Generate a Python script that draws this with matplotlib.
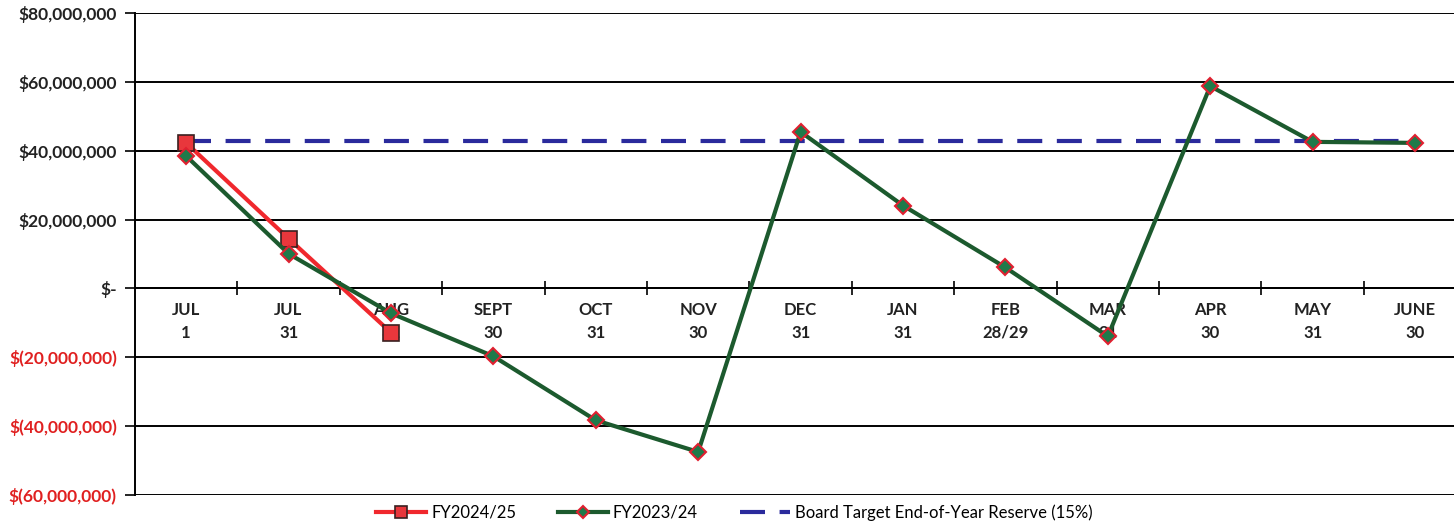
import numpy as np
import matplotlib
matplotlib.use("Agg")
import matplotlib.pyplot as plt
from matplotlib.ticker import FuncFormatter, FixedLocator

plt.rcParams['font.family'] = ['Lato', 'DejaVu Sans']

# period-end labels, fiscal year Jul-Jun
periods = ["JUL\n1", "JUL\n31", "AUG\n31", "SEPT\n30", "OCT\n31", "NOV\n30",
           "DEC\n31", "JAN\n31", "FEB\n28/29", "MAR\n31", "APR\n30", "MAY\n31", "JUNE\n30"]

# cash balances in dollars
fy2425 = [42.3e6, 14.5e6, -12.8e6]
fy2324 = [38.5e6, 10.1e6, -7.2e6, -19.7e6, -38.3e6, -47.5e6,
          45.5e6, 24.1e6, 6.1e6, -13.9e6, 58.8e6, 42.6e6, 42.3e6]
target = [42.8e6] * len(periods)

yticks = [80e6, 60e6, 40e6, 20e6, 0, -20e6, -40e6, -60e6]


def money(v, pos=None):
    if v == 0:
        return "$-"
    if v < 0:
        return "$({:,.0f})".format(-v)
    return "${:,.0f}".format(v)


fig = plt.figure(figsize=(14.54, 5.26), dpi=100)
ax = fig.add_axes([0.0928, 0.059, 0.9072, 0.916])

x = np.arange(len(periods))

ax.plot(x, target, color='#2a2a9c', lw=3, dashes=(6, 3.5), zorder=3,
        label='Board Target End-of-Year Reserve (15%)')
ax.plot(x[:len(fy2425)], fy2425, color='#f0282d', lw=3, marker='s', ms=11,
        mfc='#e8373c', mec='#3a2020', mew=1.2, zorder=4, label='FY2024/25')
ax.plot(x, fy2324, color='#1c5a2e', lw=3, marker='D', ms=8,
        mfc='#1f7a4a', mec='#e02030', mew=1.5, zorder=5, label='FY2023/24')

ax.set_ylim(-60e6, 80e6)
ax.set_xlim(-0.5, 12.38)

ax.yaxis.set_major_locator(FixedLocator(yticks))
ax.yaxis.set_major_formatter(FuncFormatter(money))
ax.grid(axis='y', color='black', lw=1.4, zorder=1)
ax.tick_params(axis='y', length=7, width=1.2, pad=6, labelsize=12.5)
for lbl, v in zip(ax.get_yticklabels(), yticks):
    lbl.set_fontweight('bold')
    lbl.set_color('#e02020' if v < 0 else '#222222')

# category axis sits on the zero line
ax.spines['bottom'].set_position(('data', 0))
ax.spines['bottom'].set_linewidth(1.4)
ax.spines['left'].set_linewidth(1.4)
ax.spines['top'].set_visible(False)
ax.spines['right'].set_visible(False)
ax.set_xticks(x)
ax.set_xticklabels(periods, fontweight='bold', fontsize=12, color='#222222',
                   linespacing=1.5)
ax.set_xticks(np.arange(0.5, 12, 1), minor=True)
ax.tick_params(axis='x', which='major', length=0, pad=10)
ax.tick_params(axis='x', which='minor', length=10, width=1.2, direction='inout')

handles, labels = ax.get_legend_handles_labels()
order = [1, 2, 0]
fig.legend([handles[i] for i in order], [labels[i] for i in order],
           loc='center', bbox_to_anchor=(0.505, 0.026), ncol=3, frameon=False,
           fontsize=12, handlelength=3, columnspacing=2.5, handletextpad=0.3,
           markerscale=0.8)

fig.savefig("out.png", dpi=100)
